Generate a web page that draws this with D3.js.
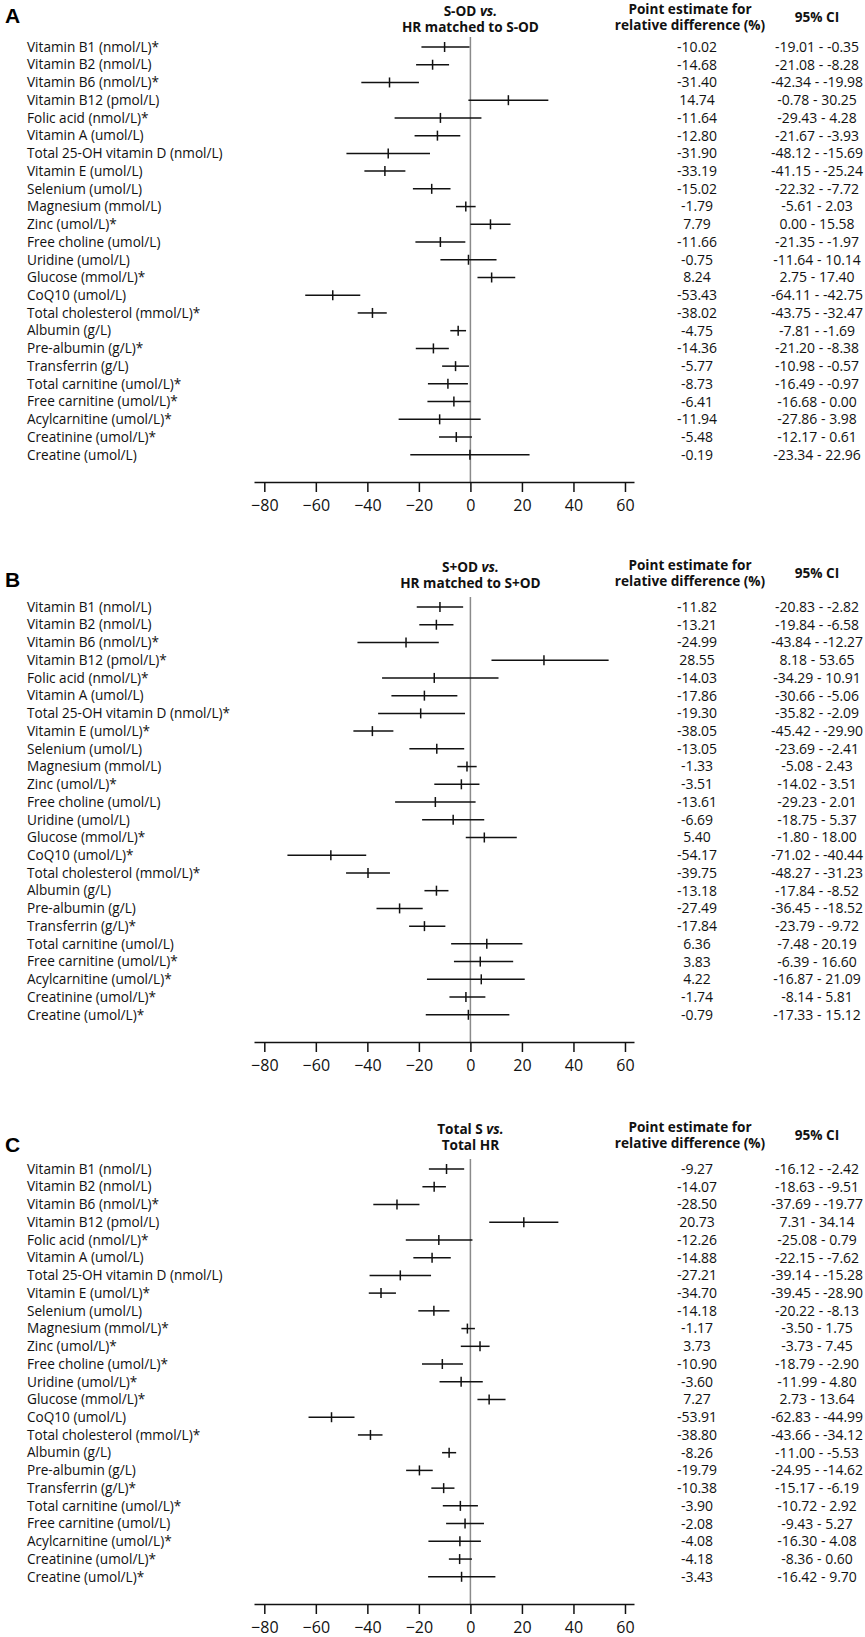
<!DOCTYPE html>
<html>
<head>
<meta charset="utf-8">
<script src="https://cdn.jsdelivr.net/npm/d3@7"></script>
<style>
  body { margin: 0; background: #fff; }
  svg { display: block; font-family: "Open Sans", "Noto Sans", sans-serif; }
  .row-label { font-size: 13.6px; fill: #111; }
  .cell { font-size: 14px; fill: #111; }
  .head { font-size: 13.6px; font-weight: 700; fill: #111; }
  .letter { font-family: "Liberation Sans", Arial, sans-serif; font-size: 21px; font-weight: 700; }
  .axis text { font-size: 16px; fill: #111; font-family: "Open Sans", sans-serif; }
</style>
</head>
<body>
<svg id="chart" width="865" height="1637"></svg>
<script>
// rows, estimates and 95% CI bounds for each comparison
const labelsA = [
  'Vitamin B1 (nmol/L)*', 'Vitamin B2 (nmol/L)', 'Vitamin B6 (nmol/L)*', 'Vitamin B12 (pmol/L)',
  'Folic acid (nmol/L)*', 'Vitamin A (umol/L)', 'Total 25-OH vitamin D (nmol/L)', 'Vitamin E (umol/L)',
  'Selenium (umol/L)', 'Magnesium (mmol/L)', 'Zinc (umol/L)*', 'Free choline (umol/L)',
  'Uridine (umol/L)', 'Glucose (mmol/L)*', 'CoQ10 (umol/L)', 'Total cholesterol (mmol/L)*',
  'Albumin (g/L)', 'Pre-albumin (g/L)*', 'Transferrin (g/L)', 'Total carnitine (umol/L)*',
  'Free carnitine (umol/L)*', 'Acylcarnitine (umol/L)*', 'Creatinine (umol/L)*', 'Creatine (umol/L)',
];
const estA = [-10.02, -14.68, -31.40, 14.74, -11.64, -12.80, -31.90, -33.19, -15.02, -1.79, 7.79, -11.66,
  -0.75, 8.24, -53.43, -38.02, -4.75, -14.36, -5.77, -8.73, -6.41, -11.94, -5.48, -0.19];
const loA = [-19.01, -21.08, -42.34, -0.78, -29.43, -21.67, -48.12, -41.15, -22.32, -5.61, 0.00, -21.35,
  -11.64, 2.75, -64.11, -43.75, -7.81, -21.20, -10.98, -16.49, -16.68, -27.86, -12.17, -23.34];
const hiA = [-0.35, -8.28, -19.98, 30.25, 4.28, -3.93, -15.69, -25.24, -7.72, 2.03, 15.58, -1.97,
  10.14, 17.40, -42.75, -32.47, -1.69, -8.38, -0.57, -0.97, 0.00, 3.98, 0.61, 22.96];

const labelsB = [
  'Vitamin B1 (nmol/L)', 'Vitamin B2 (nmol/L)', 'Vitamin B6 (nmol/L)*', 'Vitamin B12 (pmol/L)*',
  'Folic acid (nmol/L)*', 'Vitamin A (umol/L)', 'Total 25-OH vitamin D (nmol/L)*', 'Vitamin E (umol/L)*',
  'Selenium (umol/L)', 'Magnesium (mmol/L)', 'Zinc (umol/L)*', 'Free choline (umol/L)',
  'Uridine (umol/L)', 'Glucose (mmol/L)*', 'CoQ10 (umol/L)*', 'Total cholesterol (mmol/L)*',
  'Albumin (g/L)', 'Pre-albumin (g/L)', 'Transferrin (g/L)*', 'Total carnitine (umol/L)',
  'Free carnitine (umol/L)*', 'Acylcarnitine (umol/L)*', 'Creatinine (umol/L)*', 'Creatine (umol/L)*',
];
const estB = [-11.82, -13.21, -24.99, 28.55, -14.03, -17.86, -19.30, -38.05, -13.05, -1.33, -3.51, -13.61,
  -6.69, 5.40, -54.17, -39.75, -13.18, -27.49, -17.84, 6.36, 3.83, 4.22, -1.74, -0.79];
const loB = [-20.83, -19.84, -43.84, 8.18, -34.29, -30.66, -35.82, -45.42, -23.69, -5.08, -14.02, -29.23,
  -18.75, -1.80, -71.02, -48.27, -17.84, -36.45, -23.79, -7.48, -6.39, -16.87, -8.14, -17.33];
const hiB = [-2.82, -6.58, -12.27, 53.65, 10.91, -5.06, -2.09, -29.90, -2.41, 2.43, 3.51, 2.01,
  5.37, 18.00, -40.44, -31.23, -8.52, -18.52, -9.72, 20.19, 16.60, 21.09, 5.81, 15.12];

const labelsC = [
  'Vitamin B1 (nmol/L)', 'Vitamin B2 (nmol/L)', 'Vitamin B6 (nmol/L)*', 'Vitamin B12 (pmol/L)',
  'Folic acid (nmol/L)*', 'Vitamin A (umol/L)', 'Total 25-OH vitamin D (nmol/L)', 'Vitamin E (umol/L)*',
  'Selenium (umol/L)', 'Magnesium (mmol/L)*', 'Zinc (umol/L)*', 'Free choline (umol/L)*',
  'Uridine (umol/L)*', 'Glucose (mmol/L)*', 'CoQ10 (umol/L)', 'Total cholesterol (mmol/L)*',
  'Albumin (g/L)', 'Pre-albumin (g/L)', 'Transferrin (g/L)*', 'Total carnitine (umol/L)*',
  'Free carnitine (umol/L)', 'Acylcarnitine (umol/L)*', 'Creatinine (umol/L)*', 'Creatine (umol/L)*',
];
const estC = [-9.27, -14.07, -28.50, 20.73, -12.26, -14.88, -27.21, -34.70, -14.18, -1.17, 3.73, -10.90,
  -3.60, 7.27, -53.91, -38.80, -8.26, -19.79, -10.38, -3.90, -2.08, -4.08, -4.18, -3.43];
const loC = [-16.12, -18.63, -37.69, 7.31, -25.08, -22.15, -39.14, -39.45, -20.22, -3.50, -3.73, -18.79,
  -11.99, 2.73, -62.83, -43.66, -11.00, -24.95, -15.17, -10.72, -9.43, -16.30, -8.36, -16.42];
const hiC = [-2.42, -9.51, -19.77, 34.14, 0.79, -7.62, -15.28, -28.90, -8.13, 1.75, 7.45, -2.90,
  4.80, 13.64, -44.99, -34.12, -5.53, -14.62, -6.19, 2.92, 5.27, 4.08, 0.60, 9.70];

const panelLetters = ['A', 'B', 'C'];
const titleTop = ['S-OD', 'S+OD', 'Total S'];
const titleBottom = ['HR matched to S-OD', 'HR matched to S+OD', 'Total HR'];
const xTicks = [-80, -60, -40, -20, 0, 20, 40, 60];

const svg = d3.select('#chart');

const x = d3.scaleLinear().domain([-84, 63.5]).range([254, 634]);
const rowStep = 17.73;
const colEst = 697;
const colCI = 817;
const labelX = 27;

const panels = [
  { labels: labelsA, est: estA, lo: loA, hi: hiA, top: 47, letterY: 23, headDy: -36 },
  { labels: labelsB, est: estB, lo: loB, hi: hiB, top: 607, letterY: 587, headDy: -40 },
  { labels: labelsC, est: estC, lo: loC, hi: hiC, top: 1169, letterY: 1152, headDy: -40 },
];

const fmt = (v) => v.toFixed(2);

function drawPanel(p, i) {
  const g = svg.append('g');
  const n = p.labels.length;
  const y = d3.scalePoint().domain(d3.range(n)).range([p.top, p.top + (n - 1) * rowStep]);
  const axisY = p.top + 435;
  const rows = d3.range(n).map((k) => ({
    label: p.labels[k], est: p.est[k], lo: p.lo[k], hi: p.hi[k], k,
  }));

  g.append('text')
    .attr('class', 'letter')
    .attr('x', 5)
    .attr('y', p.letterY)
    .text(panelLetters[i]);

  // column headers
  const h1 = g.append('text')
    .attr('class', 'head')
    .attr('x', x(0))
    .attr('y', p.top + p.headDy)
    .attr('dy', '0.35em')
    .attr('text-anchor', 'middle');
  h1.append('tspan').text(titleTop[i] + ' ');
  h1.append('tspan').attr('font-style', 'italic').text('vs.');
  g.append('text')
    .attr('class', 'head')
    .attr('x', x(0))
    .attr('y', p.top + p.headDy + 16)
    .attr('dy', '0.35em')
    .attr('text-anchor', 'middle')
    .text(titleBottom[i]);

  g.append('text')
    .attr('class', 'head')
    .attr('x', 690)
    .attr('y', p.top + p.headDy - 2)
    .attr('dy', '0.35em')
    .attr('text-anchor', 'middle')
    .text('Point estimate for');
  g.append('text')
    .attr('class', 'head')
    .attr('x', 690)
    .attr('y', p.top + p.headDy + 14)
    .attr('dy', '0.35em')
    .attr('text-anchor', 'middle')
    .text('relative difference (%)');
  g.append('text')
    .attr('class', 'head')
    .attr('x', colCI)
    .attr('y', p.top + p.headDy + 6)
    .attr('dy', '0.35em')
    .attr('text-anchor', 'middle')
    .text('95% CI');

  // zero reference line
  g.append('line')
    .attr('x1', x(0)).attr('x2', x(0))
    .attr('y1', p.top - 10).attr('y2', axisY)
    .attr('stroke', '#8a8a8a')
    .attr('stroke-width', 1.5);

  const row = g.selectAll('g.row')
    .data(rows)
    .enter()
    .append('g')
    .attr('class', 'row')
    .attr('transform', (d) => `translate(0,${y(d.k)})`);

  row.append('text')
    .attr('class', 'row-label')
    .attr('x', labelX)
    .attr('dy', '0.35em')
    .text((d) => d.label);

  row.append('line')
    .attr('x1', (d) => x(d.lo))
    .attr('x2', (d) => x(d.hi))
    .attr('stroke', '#111')
    .attr('stroke-width', 1.5);

  row.append('line')
    .attr('x1', (d) => x(d.est))
    .attr('x2', (d) => x(d.est))
    .attr('y1', -5)
    .attr('y2', 5)
    .attr('stroke', '#111')
    .attr('stroke-width', 1.5);

  row.append('text')
    .attr('class', 'cell')
    .attr('x', colEst)
    .attr('dy', '0.35em')
    .attr('text-anchor', 'middle')
    .text((d) => fmt(d.est));

  row.append('text')
    .attr('class', 'cell')
    .attr('x', colCI)
    .attr('dy', '0.35em')
    .attr('text-anchor', 'middle')
    .text((d) => `${fmt(d.lo)} - ${fmt(d.hi)}`);

  const axis = g.append('g')
    .attr('class', 'axis')
    .attr('transform', `translate(0,${axisY})`)
    .call(d3.axisBottom(x).tickValues(xTicks).tickSize(10).tickSizeOuter(0).tickPadding(8).tickFormat(d3.format('d')));
  axis.select('.domain').attr('stroke', '#111').attr('stroke-width', 1.5);
  axis.selectAll('.tick line').attr('stroke', '#111').attr('stroke-width', 1.5);
}

panels.forEach(drawPanel);
</script>
</body>
</html>
